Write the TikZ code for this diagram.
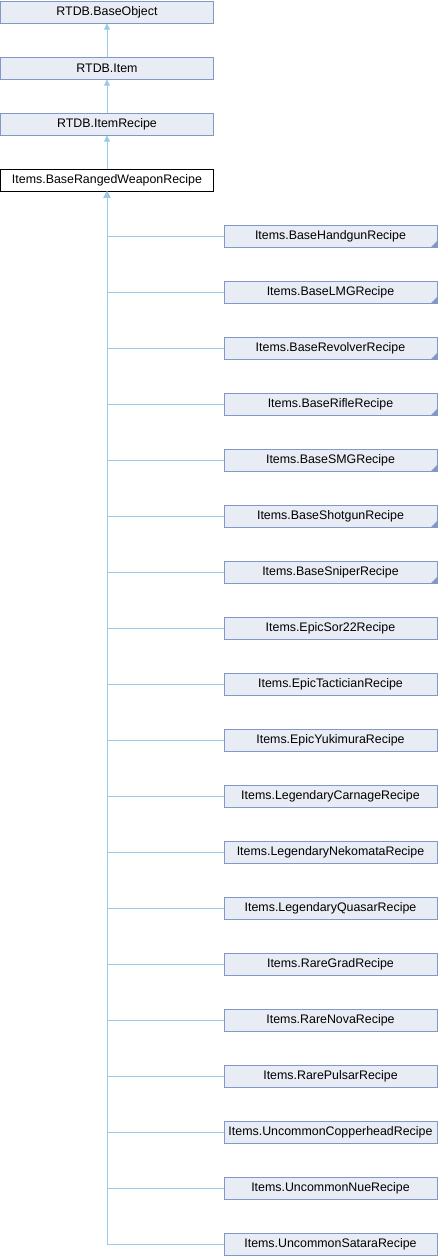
\documentclass[tikz,border=0pt]{standalone}
\usepackage{fontspec}
\setmainfont{Liberation Sans}
\usetikzlibrary{arrows.meta}
\definecolor{boxfill}{RGB}{232,236,244}
\definecolor{boxline}{RGB}{132,152,200}
\definecolor{edgecol}{RGB}{154,202,232}
\tikzset{
  cls/.style={draw=boxline, fill=boxfill, line width=1pt, minimum width=213pt, minimum height=22pt, inner sep=0pt, font=\fontsize{12.4}{14}\selectfont},
  curcls/.style={cls, draw=black, fill=white},
  inh/.style={draw=edgecol, line width=1pt, {Triangle[length=6pt,width=6pt]}-},
  more/.style={path picture={\fill[boxline] (path picture bounding box.south east) -- ++(-6pt,0) -- ++(6pt,6pt) -- cycle;}}
}
\begin{document}
\begin{tikzpicture}[x=1pt,y=-1pt]
\useasboundingbox (0,0) rectangle (438,1256);
\node[cls] (bo) at (107,12) {RTDB.BaseObject};
\node[cls] (it) at (107,68) {RTDB.Item};
\node[cls] (ir) at (107,124) {RTDB.ItemRecipe};
\node[curcls] (rw) at (107,180) {Items.BaseRangedWeaponRecipe};
\draw[inh] (bo.south) -- (it.north);
\draw[inh] (it.south) -- (ir.north);
\draw[inh] (ir.south) -- (rw.north);
\foreach \n/\t/\m [count=\i from 0] in {
 c1/Items.BaseHandgunRecipe/more,
 c2/Items.BaseLMGRecipe/more,
 c3/Items.BaseRevolverRecipe/more,
 c4/Items.BaseRifleRecipe/more,
 c5/Items.BaseSMGRecipe/more,
 c6/Items.BaseShotgunRecipe/more,
 c7/Items.BaseSniperRecipe/more,
 c8/Items.EpicSor22Recipe/cls,
 c9/Items.EpicTacticianRecipe/cls,
 c10/Items.EpicYukimuraRecipe/cls,
 c11/Items.LegendaryCarnageRecipe/cls,
 c12/Items.LegendaryNekomataRecipe/cls,
 c13/Items.LegendaryQuasarRecipe/cls,
 c14/Items.RareGradRecipe/cls,
 c15/Items.RareNovaRecipe/cls,
 c16/Items.RarePulsarRecipe/cls,
 c17/Items.UncommonCopperheadRecipe/cls,
 c18/Items.UncommonNueRecipe/cls,
 c19/Items.UncommonSataraRecipe/cls} {
  \node[cls,\m] (\n) at (330.5,236+56*\i) {\t};
  \draw[inh] (rw.south) |- (\n.west);
}
\end{tikzpicture}
\end{document}
